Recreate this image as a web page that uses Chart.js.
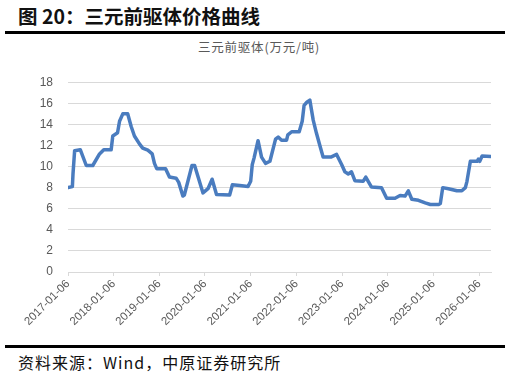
<!DOCTYPE html>
<html>
<head>
<meta charset="utf-8">
<script src="https://cdn.jsdelivr.net/npm/chart.js@4.4.0/dist/chart.umd.min.js"></script>
<style>
  body { margin: 0; width: 511px; height: 379px; background: #fff; position: relative; overflow: hidden;
         font-family: "Noto Sans CJK SC", sans-serif; }
  #title { position: absolute; left: 18px; top: 2px; font-size: 19.5px; font-weight: bold; letter-spacing: 0;
           color: #111; line-height: 28px; white-space: nowrap; }
  .rule { position: absolute; left: 5px; width: 500px; height: 3px; background: #000; }
  #subtitle { position: absolute; left: 0; width: 518px; top: 38px; text-align: center; font-size: 12.5px;
              letter-spacing: 0.8px; color: #595959; line-height: 18px; white-space: nowrap; }
  #src { position: absolute; left: 18px; top: 351px; font-size: 16px; letter-spacing: 1px; color: #111;
         line-height: 22px; white-space: nowrap; }
  #wrap { position: absolute; left: 0; top: 60px; width: 511px; height: 285px; }
</style>
</head>
<body>
<div id="title">图 20：三元前驱体价格曲线</div>
<div class="rule" style="top:31px"></div>
<div id="subtitle">三元前驱体(万元/吨)</div>
<div id="wrap"><canvas id="priceChart"></canvas></div>
<div class="rule" style="top:345px"></div>
<div id="src">资料来源：Wind，中原证券研究所</div>

<script>
// Price of NCM precursor (10k CNY / ton)
const dates = [
    '2017-01-06', '2017-02-10', '2017-02-15', '2017-02-28', '2017-04-14', '2017-06-01', '2017-07-23',
    '2017-09-15', '2017-10-19', '2017-12-17', '2017-12-30', '2018-02-06', '2018-02-22', '2018-03-20',
    '2018-04-28', '2018-05-26', '2018-06-21', '2018-07-31', '2018-08-26', '2018-10-06', '2018-11-10',
    '2018-11-28', '2018-12-16', '2019-02-25', '2019-03-28', '2019-05-20', '2019-06-10', '2019-07-13',
    '2019-07-25', '2019-09-24', '2019-10-15', '2019-12-21', '2020-01-30', '2020-03-03', '2020-04-07',
    '2020-07-21', '2020-08-12', '2020-10-10', '2020-12-15', '2021-01-05', '2021-01-18', '2021-02-01',
    '2021-03-05', '2021-04-02', '2021-05-04', '2021-06-08', '2021-07-23', '2021-08-13', '2021-09-09',
    '2021-10-19', '2021-10-29', '2021-11-29', '2022-01-28', '2022-02-21', '2022-03-08', '2022-03-30',
    '2022-04-23', '2022-05-20', '2022-06-14', '2022-07-12', '2022-08-07', '2022-10-08', '2022-11-23',
    '2023-01-02', '2023-01-28', '2023-02-24', '2023-03-22', '2023-04-18', '2023-06-23', '2023-07-14',
    '2023-08-29', '2023-11-17', '2023-12-28', '2024-03-04', '2024-04-13', '2024-05-23', '2024-06-18',
    '2024-07-16', '2024-09-07', '2024-10-31', '2024-12-11', '2025-02-15', '2025-03-01', '2025-03-20',
    '2025-05-05', '2025-07-11', '2025-08-20', '2025-09-17', '2025-09-30', '2025-10-27', '2025-12-20',
    '2025-12-30', '2026-01-10', '2026-01-29', '2026-04-10'
];
const prices = [
    8.0, 8.1, 9.3, 11.5, 11.6, 10.1, 10.1,
    11.2, 11.6, 11.6, 12.9, 13.2, 14.3, 15.0,
    15.0, 13.8, 12.9, 12.15, 11.75, 11.55, 11.2,
    10.3, 9.8, 9.8, 9.0, 8.9, 8.5, 7.2,
    7.3, 10.1, 10.1, 7.5, 7.9, 8.8, 7.35,
    7.3, 8.27, 8.2, 8.1, 8.6, 10.2, 10.8,
    12.45, 10.9, 10.3, 10.5, 12.6, 12.8, 12.5,
    12.5, 13.0, 13.3, 13.3, 14.3, 15.8, 16.1,
    16.3, 14.4, 13.2, 12.0, 10.9, 10.9, 11.15,
    10.2, 9.5, 9.3, 9.5, 8.66, 8.6, 9.0,
    8.06, 8.0, 7.0, 7.0, 7.25, 7.2, 7.7,
    6.9, 6.8, 6.55, 6.4, 6.4, 6.5, 8.0,
    7.9, 7.7, 7.7, 8.0, 8.6, 10.5, 10.5,
    10.7, 10.5, 11.0, 10.95
];
const tickDates = [
    '2017-01-06', '2018-01-06', '2019-01-06', '2020-01-06', '2021-01-06',
    '2022-01-06', '2023-01-06', '2024-01-06', '2025-01-06', '2026-01-06'
];
const yTicks = [0, 2, 4, 6, 8, 10, 12, 14, 16, 18];

const DAY = 86400000;
const origin = Date.parse(dates[0]);
const toDays = d => (Date.parse(d) - origin) / DAY;
const tickLabels = {};
tickDates.forEach(d => { tickLabels[toDays(d)] = d; });

const points = dates.map((d, i) => ({ x: toDays(d), y: prices[i] }));

const ctx = document.getElementById('priceChart').getContext('2d');
new Chart(ctx, {
    type: 'line',
    data: {
        datasets: [{
            data: points,
            borderColor: '#4a7cbf',
            borderWidth: 3.5,
            pointRadius: 0,
            tension: 0,
            borderJoinStyle: 'round',
            borderCapStyle: 'round',
        }]
    },
    options: {
        responsive: true,
        maintainAspectRatio: false,
        animation: false,
        layout: { padding: { top: 14, right: 20, bottom: 0, left: 0 } },
        plugins: {
            legend: { display: false },
            tooltip: { enabled: false },
        },
        scales: {
            x: {
                type: 'linear',
                min: 0,
                max: toDays(dates[dates.length - 1]),
                afterBuildTicks: scale => {
                    scale.ticks = tickDates.map(d => ({ value: toDays(d) }));
                },
                afterFit: scale => { scale.height = 73; },
                grid: { drawOnChartArea: false, drawTicks: true, tickLength: 4, color: '#d9d9d9' },
                border: { color: '#d9d9d9' },
                ticks: {
                    autoSkip: false,
                    maxRotation: 45,
                    minRotation: 45,
                    padding: 1,
                    color: '#595959',
                    font: { family: 'Liberation Sans', size: 11.5 },
                    callback: value => tickLabels[value] || '',
                }
            },
            y: {
                min: 0,
                max: 18,
                afterBuildTicks: scale => {
                    scale.ticks = yTicks.map(v => ({ value: v }));
                },
                afterFit: scale => { scale.width = 68; },
                grid: { color: '#d9d9d9', drawTicks: false, lineWidth: 1 },
                border: { display: false },
                ticks: {
                    padding: 15,
                    color: '#595959',
                    font: { family: 'Liberation Sans', size: 12 },
                }
            }
        }
    }
});
</script>
</body>
</html>
